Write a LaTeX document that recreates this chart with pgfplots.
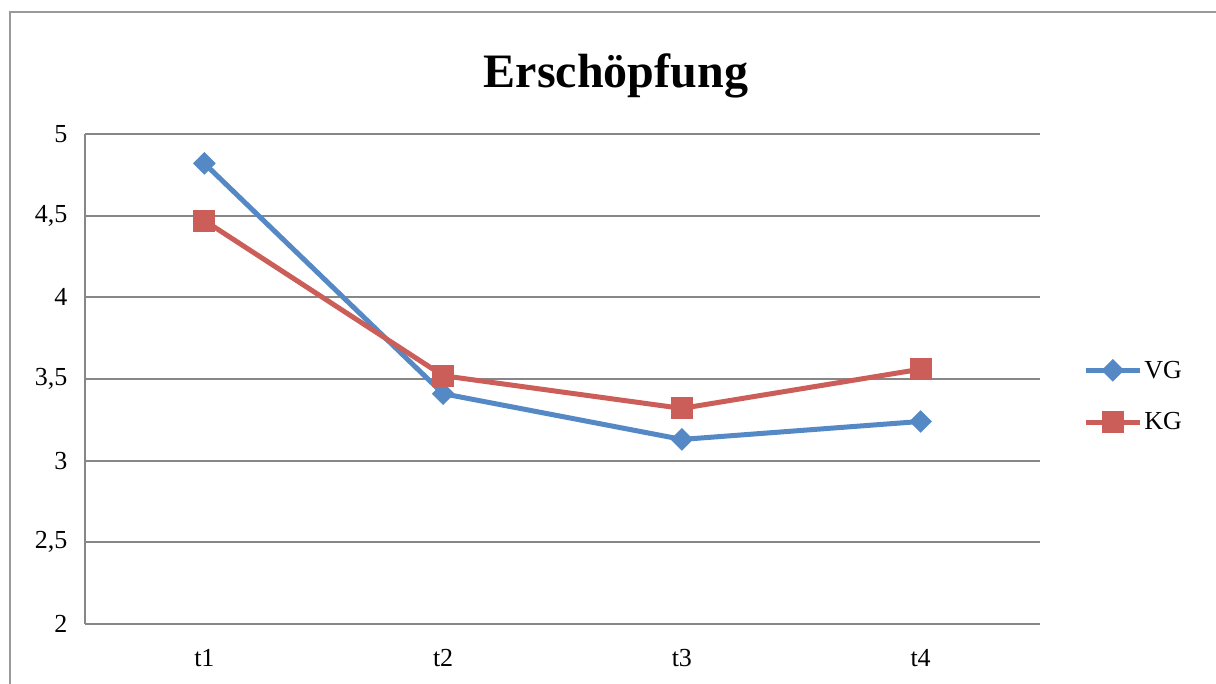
\documentclass[border=0pt]{standalone}
\usepackage{pgfplots}
\pgfplotsset{compat=1.18}
\usepackage{fontspec}
\setmainfont{Liberation Serif}

\definecolor{vgblue}{HTML}{5589C6}
\definecolor{kgred}{HTML}{CC5E59}
\definecolor{gridgray}{HTML}{878787}
\definecolor{framegray}{HTML}{9A9A9A}

\begin{document}
\begin{tikzpicture}[x=1pt,y=1pt]
\useasboundingbox (0,0) rectangle (1216,684);
% chart frame
\draw[framegray, line width=2pt] (10,-20) -- (10,672) -- (1240,672);
% title
\node[anchor=base, font=\fontsize{48}{56}\selectfont\bfseries] at (616,596) {Erschöpfung};
\begin{axis}[
  at={(85pt,60pt)}, anchor=south west,
  scale only axis, width=955pt, height=490pt,
  xmin=0.5, xmax=4.5, ymin=2, ymax=5,
  xtick={1,2,3,4}, xticklabels={t1,t2,t3,t4},
  ytick={2,2.5,3,3.5,4,4.5,5},
  /pgf/number format/.cd, use comma, fixed, assume math mode=true,
  /pgfplots/.cd,
  tick style={draw=none},
  axis x line*=bottom, axis y line*=left,
  axis line style={gridgray, line width=2pt, -},
  ymajorgrids, major grid style={gridgray, line width=2pt},
  ticklabel style={font=\fontsize{26}{30}\selectfont},
  yticklabel style={xshift=-14pt},
  xticklabel style={yshift=-22pt},
  clip=false,
  legend style={at={(1.042,0.465)}, anchor=west, draw=none, fill=none,
    font=\fontsize{26}{30}\selectfont, row sep=29pt,
    /tikz/every even column/.append style={column sep=0pt},
    nodes={inner sep=2pt}},
  legend cell align=left,
  legend image code/.code={%
    \draw[mark repeat=2, mark phase=2] plot coordinates {(0pt,0pt) (27pt,0pt) (54pt,0pt)};},
]
\addplot[vgblue, line width=5pt, mark=square*, mark size=7.5pt,
  mark options={rotate=45, solid, fill=vgblue, draw=vgblue, line width=1pt}]
  coordinates {(1,4.82) (2,3.41) (3,3.13) (4,3.24)};
\addlegendentry{VG}
\addplot[kgred, line width=5pt, mark=square*, mark size=10.5pt,
  mark options={solid, fill=kgred, draw=kgred, line width=1pt}]
  coordinates {(1,4.47) (2,3.52) (3,3.32) (4,3.56)};
\addlegendentry{KG}
\end{axis}
\end{tikzpicture}
\end{document}
